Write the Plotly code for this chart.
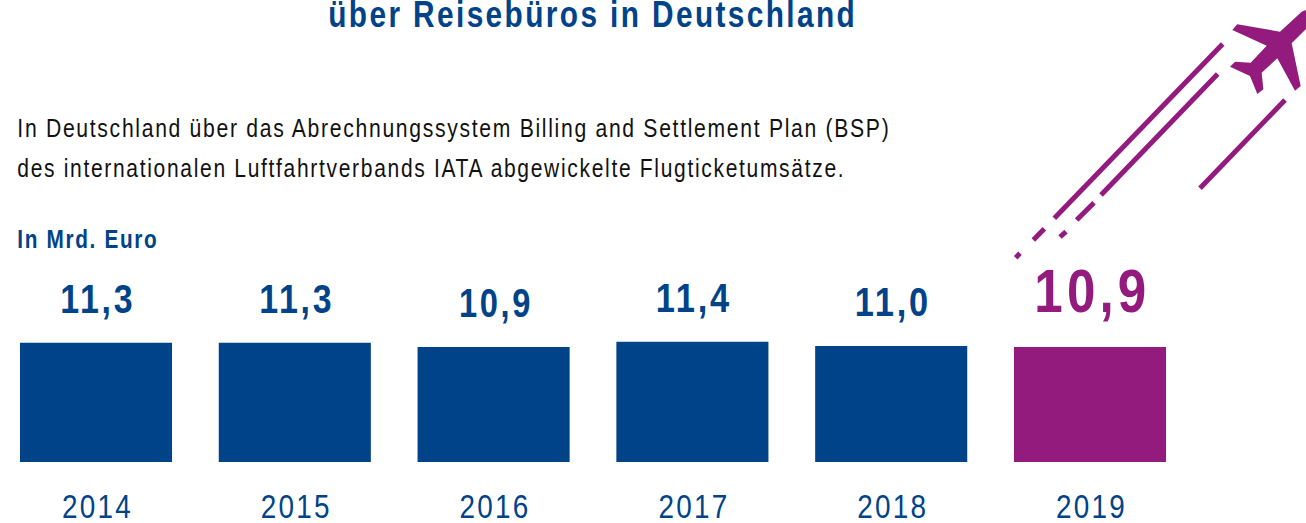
import json
import plotly.graph_objects as go

years = [2014, 2015, 2016, 2017, 2018, 2019]
values = [11.3, 11.3, 10.9, 11.4, 11.0, 10.9]
labels = ["11,3", "11,3", "10,9", "11,4", "11,0", "10,9"]
tick_labels = ["2014", "2015", "2016", "2017", "2018", "2019"]
bar_colors = ["#004389"] * 5 + ["#931B7E"]
title_text = "über Reisebüros in Deutschland"
intro_lines = ["In Deutschland über das Abrechnungssystem Billing and Settlement Plan (BSP)",
               "des internationalen Luftfahrtverbands IATA abgewickelte Flugticketumsätze."]
unit_text = "In Mrd. Euro"

W, H = 1306, 523
BLUE, PURPLE = "#004389", "#931B7E"
FONT = "Liberation Sans, Arial, sans-serif"


def px(x):
    return x / W


def py(y):
    return 1 - y / H


def z(x, y):
    return 1000 + x / 3, y / 3


fig = go.Figure(go.Bar(x=years, y=values, width=0.765, marker=dict(color=bar_colors, line_width=0),
                       hoverinfo="x+y"))

annos = [
    dict(text=title_text, x=px(592.5), y=py(15), font=dict(size=37, color=BLUE, family=FONT, weight="bold")),
    dict(text=intro_lines[0], x=px(453.5), y=py(127.5), font=dict(size=26, color="#111111", family=FONT)),
    dict(text=intro_lines[1], x=px(431), y=py(167.5), font=dict(size=26, color="#111111", family=FONT)),
    dict(text=unit_text, x=px(87.5), y=py(239), font=dict(size=26, color=BLUE, family=FONT, weight="bold")),
]
annos = [dict(a, xref="paper", yref="paper", showarrow=False, xanchor="center", yanchor="middle") for a in annos]
for i, (yr, v, lab) in enumerate(zip(years, values, labels)):
    last = i == len(years) - 1
    annos.append(dict(text=lab, x=yr, y=v, xref="x", yref="y", showarrow=False, xanchor="center",
                      yanchor="bottom", yshift=20, xshift=2,
                      font=dict(size=62 if last else 40, family=FONT, weight="bold",
                                color=PURPLE if last else BLUE)))

trails = [
    [(668, 132), (163, 655)], [(133, 686), (100, 720)], [(60, 760), (47, 773)],
    [(653, 222), (303, 585)], [(282, 608), (230, 660)], [(198, 695), (180, 711)],
    [(855, 300), (600, 565)],
]
shapes = []
for a, b in trails:
    (x0, y0), (x1, y1) = z(*a), z(*b)
    shapes.append(dict(type="line", xref="paper", yref="paper", x0=px(x0), y0=py(y0), x1=px(x1), y1=py(y1),
                       line=dict(color=PURPLE, width=5)))
plane = [(930, 25), (905, 35), (840, 95), (712, 73), (697, 90), (800, 137), (752, 188), (705, 185), (690, 200),
         (750, 228), (772, 282), (790, 268), (785, 218), (832, 175), (885, 272), (902, 258), (875, 130), (930, 75)]
path = "M " + " L ".join(f"{px(z(*p)[0]):.5f},{py(z(*p)[1]):.5f}" for p in plane) + " Z"
shapes.append(dict(type="path", xref="paper", yref="paper", path=path, fillcolor=PURPLE, line_width=0))

fig.update_layout(
    width=W, height=H, margin=dict(l=0, r=0, t=0, b=0), paper_bgcolor="white", plot_bgcolor="white",
    showlegend=False, annotations=annos, shapes=shapes,
    xaxis=dict(range=[2014 - 96 / 198.8, 2014 + 1210 / 198.8], tickvals=years, ticktext=tick_labels, ticks="",
               showgrid=False, zeroline=False, showline=False, ticklabelstandoff=21, automargin=False,
               tickfont=dict(size=34, color=BLUE, family=FONT)),
    yaxis=dict(domain=[61 / H, 1], range=[0, 462 / 10.55], visible=False, showgrid=False, automargin=False),
)
widths = {title_text: 529, intro_lines[0]: 873, intro_lines[1]: 828, unit_text: 141,
          "11,3": 75, "10,9": 74, "11,4": 76, "11,0": 76}
for t in tick_labels:
    widths[t] = 71
post = """
document.documentElement.style.overflow='hidden';
document.body.style.margin='0';
var s=document.createElement('style');
s.textContent='svg text{letter-spacing:0.08em}';
document.head.appendChild(s);
var w=%s;
document.querySelectorAll('svg text').forEach(function(t){
  var c=t.textContent, v=w[c];
  if(!v) return;
  if(parseFloat(t.style.fontSize)>50) v=116;
  t.setAttribute('textLength',v);
  t.setAttribute('lengthAdjust','spacingAndGlyphs');
  if(/^20/.test(c)) t.setAttribute('dx',1.5);
});
""" % json.dumps(widths)
fig.write_html("out.html", post_script=post, config={"displayModeBar": False})
